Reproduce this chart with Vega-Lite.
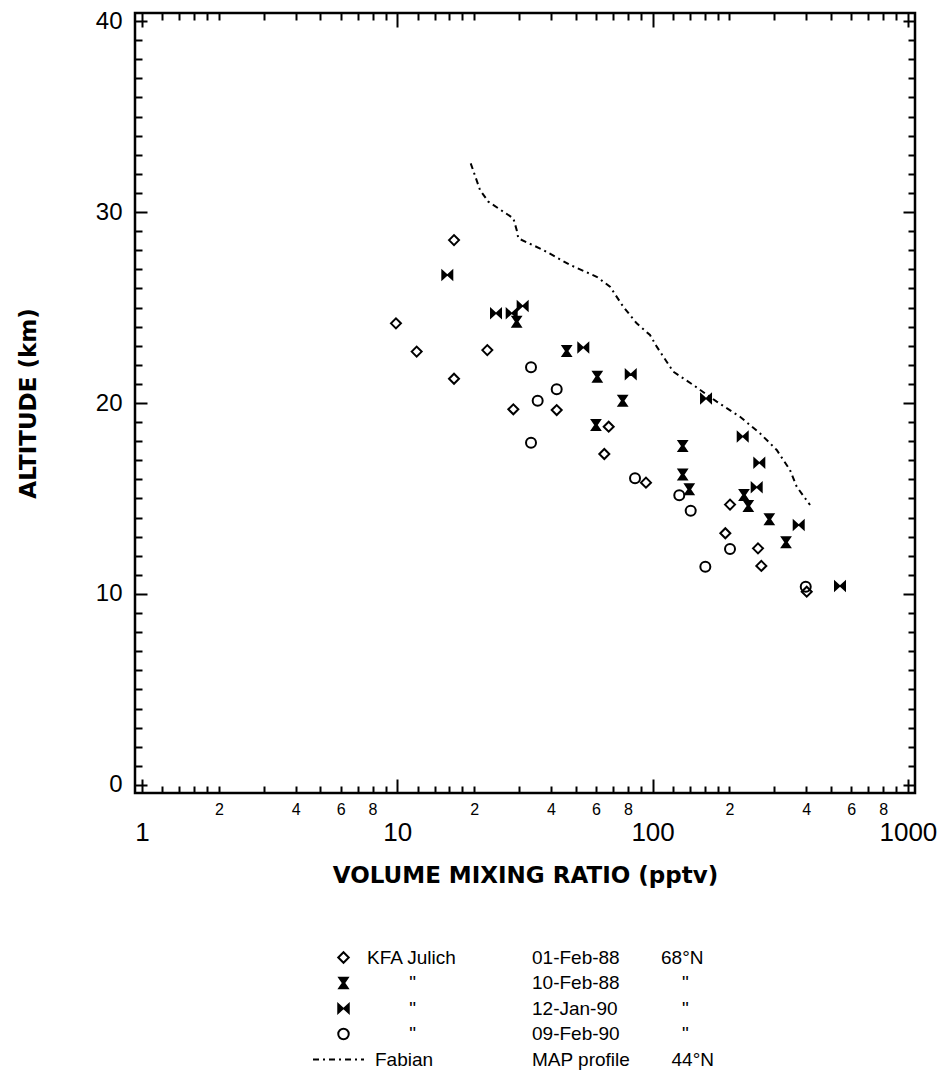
{
  "$schema": "https://vega.github.io/schema/vega-lite/v6.json",
  "width": 780,
  "height": 780,
  "autosize": {"type": "none"},
  "padding": {"left": 135, "top": 13, "right": 30, "bottom": 287},
  "background": "white",
  "config": {
    "view": {"stroke": "black", "strokeWidth": 2.5},
    "font": "Liberation Sans",
    "axis": {"domain": false, "grid": false, "tickColor": "black", "tickWidth": 2, "labelColor": "black", "titleColor": "black", "labelFont": "Liberation Sans", "titleFont": "DejaVu Sans", "labelOverlap": false, "labelFlush": false, "labelBound": false},
    "legend": {"padding": 0, "labelFont": "Liberation Sans", "labelColor": "black", "labelFontSize": 19, "rowPadding": 5.5, "titlePadding": 0}
  },
  "datasets": {
    "pts": [
      {"vmr": 16.68, "alt": 28.53, "series": "01-Feb-88"},
      {"vmr": 9.88, "alt": 24.17, "series": "01-Feb-88"},
      {"vmr": 11.91, "alt": 22.69, "series": "01-Feb-88"},
      {"vmr": 22.52, "alt": 22.77, "series": "01-Feb-88"},
      {"vmr": 16.68, "alt": 21.27, "series": "01-Feb-88"},
      {"vmr": 28.48, "alt": 19.67, "series": "01-Feb-88"},
      {"vmr": 42.11, "alt": 19.63, "series": "01-Feb-88"},
      {"vmr": 67.3, "alt": 18.76, "series": "01-Feb-88"},
      {"vmr": 64.7, "alt": 17.33, "series": "01-Feb-88"},
      {"vmr": 94.2, "alt": 15.83, "series": "01-Feb-88"},
      {"vmr": 201.0, "alt": 14.68, "series": "01-Feb-88"},
      {"vmr": 192.7, "alt": 13.18, "series": "01-Feb-88"},
      {"vmr": 258.7, "alt": 12.39, "series": "01-Feb-88"},
      {"vmr": 266.6, "alt": 11.47, "series": "01-Feb-88"},
      {"vmr": 401.5, "alt": 10.12, "series": "01-Feb-88"},
      {"vmr": 29.35, "alt": 24.26, "series": "10-Feb-88"},
      {"vmr": 46.08, "alt": 22.72, "series": "10-Feb-88"},
      {"vmr": 60.74, "alt": 21.38, "series": "10-Feb-88"},
      {"vmr": 76.36, "alt": 20.12, "series": "10-Feb-88"},
      {"vmr": 60.0, "alt": 18.85, "series": "10-Feb-88"},
      {"vmr": 131.2, "alt": 17.75, "series": "10-Feb-88"},
      {"vmr": 131.2, "alt": 16.25, "series": "10-Feb-88"},
      {"vmr": 139.2, "alt": 15.48, "series": "10-Feb-88"},
      {"vmr": 228.0, "alt": 15.18, "series": "10-Feb-88"},
      {"vmr": 237.1, "alt": 14.61, "series": "10-Feb-88"},
      {"vmr": 286.5, "alt": 13.91, "series": "10-Feb-88"},
      {"vmr": 333.1, "alt": 12.71, "series": "10-Feb-88"},
      {"vmr": 15.70, "alt": 26.70, "series": "12-Jan-90"},
      {"vmr": 24.36, "alt": 24.70, "series": "12-Jan-90"},
      {"vmr": 28.06, "alt": 24.70, "series": "12-Jan-90"},
      {"vmr": 30.98, "alt": 25.08, "series": "12-Jan-90"},
      {"vmr": 53.53, "alt": 22.90, "series": "12-Jan-90"},
      {"vmr": 82.1, "alt": 21.50, "series": "12-Jan-90"},
      {"vmr": 161.9, "alt": 20.23, "series": "12-Jan-90"},
      {"vmr": 225.4, "alt": 18.24, "series": "12-Jan-90"},
      {"vmr": 261.8, "alt": 16.87, "series": "12-Jan-90"},
      {"vmr": 255.7, "alt": 15.59, "series": "12-Jan-90"},
      {"vmr": 373.5, "alt": 13.61, "series": "12-Jan-90"},
      {"vmr": 542.0, "alt": 10.42, "series": "12-Jan-90"},
      {"vmr": 33.40, "alt": 21.87, "series": "09-Feb-90"},
      {"vmr": 42.11, "alt": 20.72, "series": "09-Feb-90"},
      {"vmr": 35.47, "alt": 20.12, "series": "09-Feb-90"},
      {"vmr": 33.40, "alt": 17.92, "series": "09-Feb-90"},
      {"vmr": 85.34, "alt": 16.06, "series": "09-Feb-90"},
      {"vmr": 127.2, "alt": 15.17, "series": "09-Feb-90"},
      {"vmr": 141.0, "alt": 14.36, "series": "09-Feb-90"},
      {"vmr": 201.0, "alt": 12.36, "series": "09-Feb-90"},
      {"vmr": 160.9, "alt": 11.43, "series": "09-Feb-90"},
      {"vmr": 397.9, "alt": 10.38, "series": "09-Feb-90"}
    ],
    "fabian": [
      {"vmr": 19.39, "alt": 32.55, "src": "Fabian", "date": "MAP profile", "lat": "r5"},
      {"vmr": 21.09, "alt": 31.15, "src": "Fabian", "date": "MAP profile", "lat": "r5"},
      {"vmr": 22.73, "alt": 30.54, "src": "Fabian", "date": "MAP profile", "lat": "r5"},
      {"vmr": 28.48, "alt": 29.67, "src": "Fabian", "date": "MAP profile", "lat": "r5"},
      {"vmr": 29.35, "alt": 29.06, "src": "Fabian", "date": "MAP profile", "lat": "r5"},
      {"vmr": 29.79, "alt": 28.62, "src": "Fabian", "date": "MAP profile", "lat": "r5"},
      {"vmr": 37.32, "alt": 28.01, "src": "Fabian", "date": "MAP profile", "lat": "r5"},
      {"vmr": 47.48, "alt": 27.23, "src": "Fabian", "date": "MAP profile", "lat": "r5"},
      {"vmr": 60.39, "alt": 26.61, "src": "Fabian", "date": "MAP profile", "lat": "r5"},
      {"vmr": 68.10, "alt": 26.09, "src": "Fabian", "date": "MAP profile", "lat": "r5"},
      {"vmr": 76.77, "alt": 25.04, "src": "Fabian", "date": "MAP profile", "lat": "r5"},
      {"vmr": 86.66, "alt": 24.17, "src": "Fabian", "date": "MAP profile", "lat": "r5"},
      {"vmr": 97.7, "alt": 23.56, "src": "Fabian", "date": "MAP profile", "lat": "r5"},
      {"vmr": 103.8, "alt": 22.95, "src": "Fabian", "date": "MAP profile", "lat": "r5"},
      {"vmr": 120.5, "alt": 21.64, "src": "Fabian", "date": "MAP profile", "lat": "r5"},
      {"vmr": 144.4, "alt": 20.94, "src": "Fabian", "date": "MAP profile", "lat": "r5"},
      {"vmr": 178.3, "alt": 20.07, "src": "Fabian", "date": "MAP profile", "lat": "r5"},
      {"vmr": 220.0, "alt": 19.28, "src": "Fabian", "date": "MAP profile", "lat": "r5"},
      {"vmr": 263.5, "alt": 18.41, "src": "Fabian", "date": "MAP profile", "lat": "r5"},
      {"vmr": 306.3, "alt": 17.54, "src": "Fabian", "date": "MAP profile", "lat": "r5"},
      {"vmr": 345.3, "alt": 16.49, "src": "Fabian", "date": "MAP profile", "lat": "r5"},
      {"vmr": 366.8, "alt": 15.62, "src": "Fabian", "date": "MAP profile", "lat": "r5"},
      {"vmr": 413.6, "alt": 14.66, "src": "Fabian", "date": "MAP profile", "lat": "r5"}
    ]
  },
  "resolve": {"axis": {"x": "independent", "y": "independent"}},
  "layer": [
    {
      "data": {"name": "pts"},
      "mark": {"type": "point", "strokeWidth": 2, "size": 100, "opacity": 1},
      "encoding": {
        "x": {
          "field": "vmr", "type": "quantitative",
          "scale": {"type": "log", "domain": [0.939, 1066], "nice": false, "zero": false},
          "axis": {
            "orient": "bottom",
            "title": "VOLUME MIXING RATIO (pptv)",
            "titleFontSize": 23, "titleFontWeight": "bold", "titleY": 82, "titleBaseline": "middle",
            "values": [1,1.2,1.4,1.6,1.8,2,3,4,5,6,7,8,9,10,12,14,16,18,20,30,40,50,60,70,80,90,100,120,140,160,180,200,300,400,500,600,700,800,900,1000],
            "tickSize": {"condition": {"test": "datum.value==1||datum.value==10||datum.value==100||datum.value==1000", "value": -14}, "value": -7},
            "labelExpr": "indexof([1,10,100,1000],datum.value)>=0 ? toString(datum.value) : (indexof([2,4,6,8,20,40,60,80,200,400,600,800],datum.value)>=0 ? slice(toString(datum.value),0,1) : '')",
            "labelFontSize": {"condition": {"test": "datum.value==1||datum.value==10||datum.value==100||datum.value==1000", "value": 26}, "value": 16},
            "labelPadding": {"condition": {"test": "datum.value==1||datum.value==10||datum.value==100||datum.value==1000", "value": 53}, "value": 23},
            "labelBaseline": "middle"
          }
        },
        "y": {
          "field": "alt", "type": "quantitative",
          "scale": {"domain": [-0.42, 40.42], "nice": false, "zero": false},
          "axis": {
            "orient": "left",
            "title": "ALTITUDE (km)",
            "titleFontSize": 23, "titleFontWeight": "bold", "titleX": -107, "titleBaseline": "middle", "titleAlign": "center", "titleAngle": -90,
            "values": [0,1,2,3,4,5,6,7,8,9,10,11,12,13,14,15,16,17,18,19,20,21,22,23,24,25,26,27,28,29,30,31,32,33,34,35,36,37,38,39,40],
            "tickSize": {"condition": {"test": "datum.value%10==0", "value": -12}, "value": -7},
            "labelExpr": "datum.value%10==0 ? toString(datum.value) : ''",
            "labelFontSize": 24,
            "labelPadding": 25
          }
        },
        "shape": {
          "field": "series", "type": "nominal",
          "scale": {
            "domain": ["01-Feb-88", "10-Feb-88", "12-Jan-90", "09-Feb-90"],
            "range": ["diamond", "M-0.8,-1H0.8L0.12,0L0.8,1H-0.8L-0.12,0Z", "M-1,-0.8L-0.12,0L-1,0.8ZM1,-0.8L0.12,0L1,0.8Z", "circle"]
          },
          "legend": {
            "orient": "none", "legendX": 199, "legendY": 935, "title": null,
            "labelExpr": "datum.label=='01-Feb-88' ? 'KFA Julich' : '\u200b\u00a0\u00a0\u00a0\u00a0\u00a0\u00a0\u00a0\u00a0\"'",
            "symbolSize": 110, "symbolStrokeColor": "black", "symbolStrokeWidth": 2,
            "labelOffset": 14
          }
        },
        "fill": {
          "field": "series", "type": "nominal",
          "scale": {
            "domain": ["01-Feb-88", "10-Feb-88", "12-Jan-90", "09-Feb-90"],
            "range": ["transparent", "black", "black", "transparent"]
          }
        },
        "stroke": {
          "field": "series", "type": "nominal",
          "scale": {
            "domain": ["01-Feb-88", "10-Feb-88", "12-Jan-90", "09-Feb-90"],
            "range": ["black", "black", "black", "black"]
          }
        }
      }
    },
    {
      "data": {"name": "fabian"},
      "mark": {"type": "line", "color": "black"},
      "encoding": {
        "x": {
          "field": "vmr", "type": "quantitative",
          "scale": {"type": "log", "domain": [0.939, 1066], "nice": false, "zero": false},
          "axis": {
            "orient": "top", "title": null, "labels": false,
            "values": [1,1.2,1.4,1.6,1.8,2,3,4,5,6,7,8,9,10,12,14,16,18,20,30,40,50,60,70,80,90,100,120,140,160,180,200,300,400,500,600,700,800,900,1000],
            "tickSize": {"condition": {"test": "datum.value==1||datum.value==10||datum.value==100||datum.value==1000", "value": -14}, "value": -7}
          }
        },
        "y": {
          "field": "alt", "type": "quantitative",
          "scale": {"domain": [-0.42, 40.42], "nice": false, "zero": false},
          "axis": {
            "orient": "right", "title": null, "labels": false,
            "values": [0,1,2,3,4,5,6,7,8,9,10,11,12,13,14,15,16,17,18,19,20,21,22,23,24,25,26,27,28,29,30,31,32,33,34,35,36,37,38,39,40],
            "tickSize": {"condition": {"test": "datum.value%10==0", "value": -12}, "value": -7}
          }
        },
        "order": {"field": "alt", "type": "quantitative", "sort": "descending"},
        "strokeDash": {
          "field": "src", "type": "nominal",
          "scale": {"domain": ["Fabian"], "range": [[6, 4, 2, 4]]},
          "legend": {
            "orient": "none", "legendX": 177, "legendY": 1020, "title": null,
            "symbolType": "stroke", "symbolSize": 2600, "symbolStrokeColor": "black", "symbolStrokeWidth": 2,
            "labelOffset": 10
          }
        },
        "opacity": {
          "field": "date", "type": "ordinal",
          "scale": {"domain": ["01-Feb-88", "10-Feb-88", "12-Jan-90", "09-Feb-90", "MAP profile"], "range": [1, 1]},
          "legend": {
            "orient": "none", "legendX": 378, "legendY": 935, "title": null,
            "symbolSize": 0, "symbolStrokeWidth": 0, "symbolFillColor": "transparent", "symbolStrokeColor": "transparent", "labelOffset": 0
          }
        },
        "strokeWidth": {
          "field": "lat", "type": "ordinal",
          "scale": {"domain": ["r1", "r2", "r3", "r4", "r5"], "range": [2, 2]},
          "legend": {
            "orient": "none", "legendX": 507, "legendY": 935, "title": null,
            "labelExpr": "datum.label=='r1' ? '68°N' : (datum.label=='r5' ? '\u200b\u00a0\u00a044°N' : '\u200b\u00a0\u00a0\u00a0\u00a0\"')",
            "symbolSize": 0, "symbolOpacity": 0, "symbolFillColor": "transparent", "symbolStrokeColor": "transparent", "labelOffset": 0
          }
        }
      }
    }
  ]
}
